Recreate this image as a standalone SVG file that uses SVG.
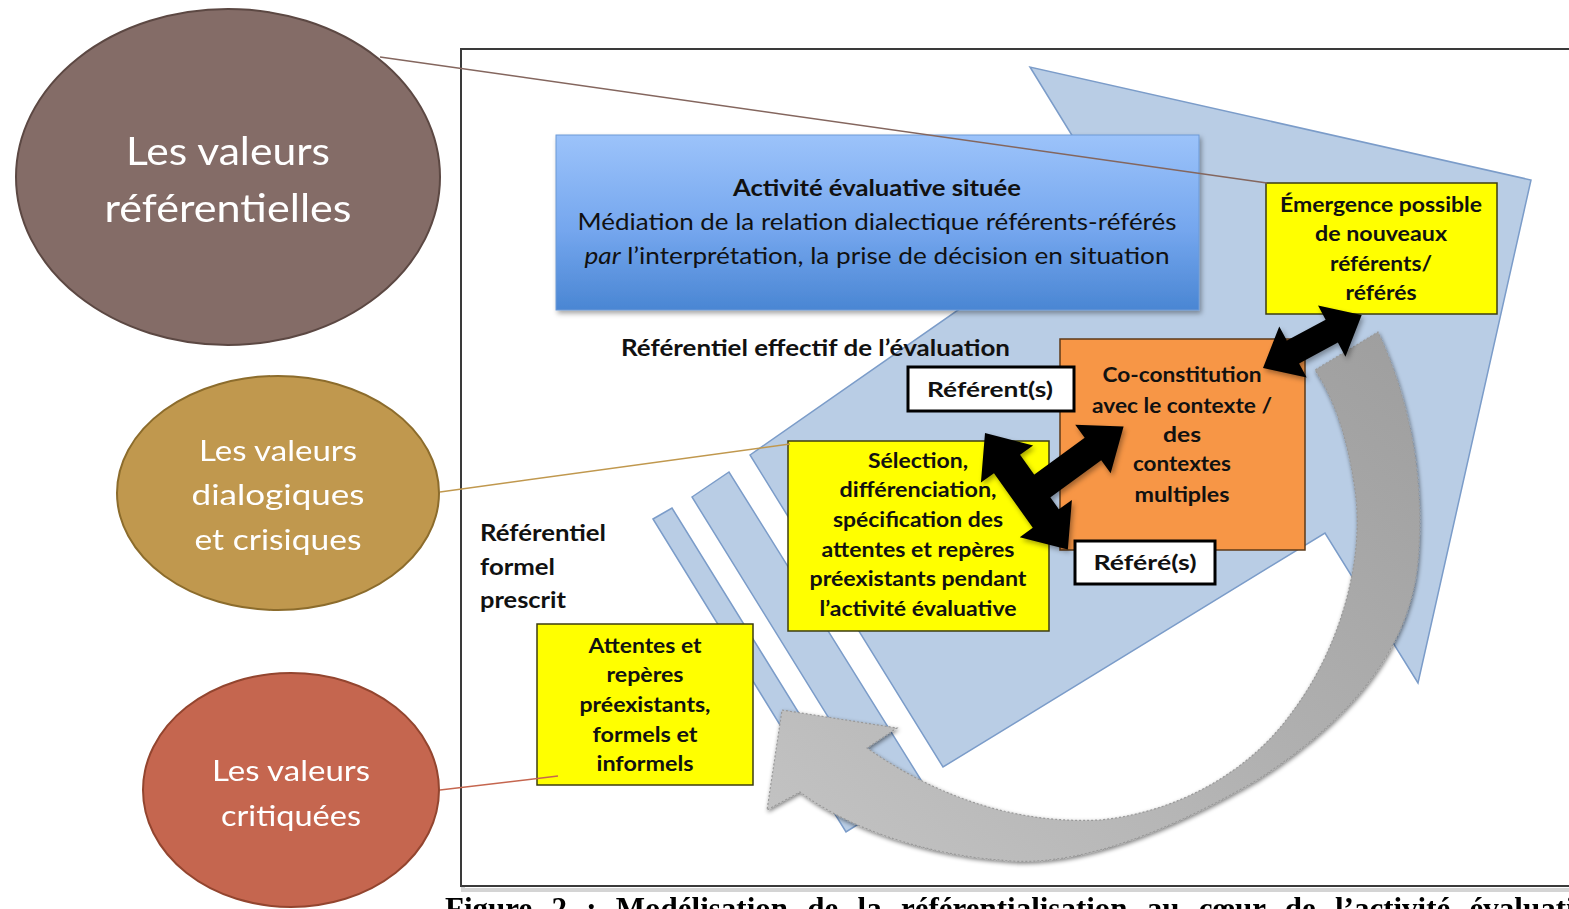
<svg xmlns="http://www.w3.org/2000/svg" width="1569" height="909" viewBox="0 0 1569 909">
<style>
.t{font-family:Lato,"Open Sans","Liberation Sans",sans-serif;fill:#111;}
.b{font-weight:700;}
.bx{font-family:Lato,"Open Sans","Liberation Sans",sans-serif;font-weight:700;font-size:21px;fill:#111;text-anchor:middle;}
.ell{font-family:Lato,"Open Sans","Liberation Sans",sans-serif;fill:#fff;text-anchor:middle;font-weight:400;}
.blue{fill:#b9cde5;stroke:#7b9cc9;stroke-width:1.5;}
.yel{fill:#ffff00;stroke:#3d3d10;stroke-width:1.5;}
.wht{fill:#fff;stroke:#000;stroke-width:3;}
.blk{fill:#000;}
</style>
<defs>
<linearGradient id="gBlue" x1="0" y1="0" x2="0" y2="1">
<stop offset="0" stop-color="#9cc3fa"/>
<stop offset="0.55" stop-color="#74a6ee"/>
<stop offset="1" stop-color="#4a86d3"/>
</linearGradient>
<linearGradient id="gGray" x1="1" y1="0" x2="0" y2="1">
<stop offset="0" stop-color="#9e9e9e"/>
<stop offset="0.5" stop-color="#b0b0b0"/>
<stop offset="1" stop-color="#c4c4c4"/>
</linearGradient>
<filter id="sh" x="-10%" y="-10%" width="130%" height="130%">
<feDropShadow dx="2" dy="3" stdDeviation="2.5" flood-color="#000" flood-opacity="0.35"/>
</filter>
<filter id="shs" x="-20%" y="-20%" width="140%" height="140%">
<feGaussianBlur in="SourceAlpha" stdDeviation="2"/>
<feOffset dx="1" dy="2"/>
<feComponentTransfer><feFuncA type="linear" slope="0.5"/></feComponentTransfer>
<feMerge><feMergeNode/><feMergeNode in="SourceGraphic"/></feMerge>
</filter>
</defs>
<rect width="1569" height="909" fill="#fff"/>

<!-- frame -->
<g id="frame">
<rect x="463" y="51" width="1120" height="839" fill="none" stroke="#d4d4d4" stroke-width="4"/>
<rect x="461" y="49" width="1120" height="837" fill="#fff" stroke="#3a3a3a" stroke-width="2"/>
</g>

<!-- big blue arrow and stripes -->
<g id="bigArrow">
<polygon class="blue" points="750,455 1113,202 1030,67 1531,180 1418,683 1325,533 943,767"/>
<polygon class="blue" points="692,497 729,472 921,780 882,804"/>
<polygon class="blue" points="653,519 672,508 865,820 846,832"/>
</g>

<!-- gray curved arrow -->
<g id="grayArrow">
<path d="M782,710 L897,728 L867,748 C920,785 1000,825 1100,820 C1180,812 1250,770 1290,715 C1340,650 1365,560 1355,490 C1348,440 1335,400 1315,370 L1378,332 C1410,400 1425,480 1418,560 C1410,650 1350,720 1257,780 C1180,825 1080,870 1000,860 C930,855 850,830 800,792 L767,810 Z" fill="url(#gGray)" stroke="#999" stroke-width="1.2" stroke-dasharray="2 2" filter="url(#shs)"/>
</g>

<!-- blue box -->
<g id="activite">
<rect x="556" y="135" width="643" height="175" fill="url(#gBlue)" stroke="#6d9ad6" stroke-width="1" filter="url(#sh)"/>
<text class="t b" x="877" y="196" font-size="23" text-anchor="middle" textLength="288" lengthAdjust="spacingAndGlyphs">Activité évaluative située</text>
<text class="t" x="877" y="230" font-size="24" text-anchor="middle" textLength="599" lengthAdjust="spacingAndGlyphs">Médiation de la relation dialectique référents-référés</text>
<text class="t" x="877" y="264" font-size="24" text-anchor="middle" textLength="585" lengthAdjust="spacingAndGlyphs"><tspan font-style="italic">par</tspan> l’interprétation, la prise de décision en situation</text>
</g>

<!-- labels -->
<g id="labelEffectif">
<text class="t b" x="621" y="356" font-size="22" textLength="389" lengthAdjust="spacingAndGlyphs">Référentiel effectif de l’évaluation</text>
</g>
<g id="labelFormel">
<text class="t b" x="480" y="541" font-size="22" textLength="126" lengthAdjust="spacingAndGlyphs">Référentiel</text>
<text class="t b" x="480" y="575" font-size="22" textLength="75" lengthAdjust="spacingAndGlyphs">formel</text>
<text class="t b" x="480" y="608" font-size="22" textLength="86" lengthAdjust="spacingAndGlyphs">prescrit</text>
</g>

<!-- orange box -->
<g id="coconstitution">
<rect x="1060" y="339" width="245" height="211" fill="#f79646" stroke="#5e3a18" stroke-width="1.5"/>
<text class="bx" x="1182" y="382" textLength="159" lengthAdjust="spacingAndGlyphs">Co-constitution</text>
<text class="bx" x="1182" y="413" textLength="180" lengthAdjust="spacingAndGlyphs">avec le contexte /</text>
<text class="bx" x="1182" y="442" textLength="38" lengthAdjust="spacingAndGlyphs">des</text>
<text class="bx" x="1182" y="471" textLength="98" lengthAdjust="spacingAndGlyphs">contextes</text>
<text class="bx" x="1182" y="502" textLength="95" lengthAdjust="spacingAndGlyphs">multiples</text>
</g>

<!-- emergence box -->
<g id="emergence">
<rect class="yel" x="1266" y="183" width="231" height="131"/>
<text class="bx" x="1381" y="212" textLength="202" lengthAdjust="spacingAndGlyphs">Émergence possible</text>
<text class="bx" x="1381" y="241" textLength="132" lengthAdjust="spacingAndGlyphs">de nouveaux</text>
<text class="bx" x="1381" y="271" textLength="102" lengthAdjust="spacingAndGlyphs">référents/</text>
<text class="bx" x="1381" y="300" textLength="71" lengthAdjust="spacingAndGlyphs">référés</text>
</g>

<!-- selection box -->
<g id="selection">
<rect class="yel" x="788" y="441" width="261" height="190"/>
<text class="bx" x="918" y="468" textLength="100" lengthAdjust="spacingAndGlyphs">Sélection,</text>
<text class="bx" x="918" y="497" textLength="157" lengthAdjust="spacingAndGlyphs">différenciation,</text>
<text class="bx" x="918" y="527" textLength="170" lengthAdjust="spacingAndGlyphs">spécification des</text>
<text class="bx" x="918" y="557" textLength="193" lengthAdjust="spacingAndGlyphs">attentes et repères</text>
<text class="bx" x="918" y="586" textLength="217" lengthAdjust="spacingAndGlyphs">préexistants pendant</text>
<text class="bx" x="918" y="616" textLength="197" lengthAdjust="spacingAndGlyphs">l’activité évaluative</text>
</g>

<!-- attentes box -->
<g id="attentes">
<rect class="yel" x="537" y="624" width="216" height="161"/>
<text class="bx" x="645" y="653" textLength="113" lengthAdjust="spacingAndGlyphs">Attentes et</text>
<text class="bx" x="645" y="682" textLength="77" lengthAdjust="spacingAndGlyphs">repères</text>
<text class="bx" x="645" y="712" textLength="131" lengthAdjust="spacingAndGlyphs">préexistants,</text>
<text class="bx" x="645" y="742" textLength="105" lengthAdjust="spacingAndGlyphs">formels et</text>
<text class="bx" x="645" y="771" textLength="97" lengthAdjust="spacingAndGlyphs">informels</text>
</g>

<!-- referent / refere boxes -->
<g id="referent">
<rect class="wht" x="908" y="367" width="166" height="44"/>
<text class="bx" x="990" y="397" font-size="23" textLength="126" lengthAdjust="spacingAndGlyphs">Référent(s)</text>
</g>
<g id="refere">
<rect class="wht" x="1075" y="541" width="140" height="43"/>
<text class="bx" x="1145" y="570" font-size="23" textLength="103" lengthAdjust="spacingAndGlyphs">Référé(s)</text>
</g>

<!-- black arrows -->
<g id="blackArrows" filter="url(#sh)">
<polygon class="blk" transform="translate(1263,368) rotate(-28.2)" points="0,0 34,-29 34,-13 78,-13 78,-29 112,0 78,29 78,13 34,13 34,29"/>
<polygon class="blk" transform="translate(1030,495) rotate(-36.2)" points="0,-14 78,-14 78,-30 116,0 78,30 78,14 0,14"/>
<polygon class="blk" transform="translate(985,433) rotate(54.6)" points="0,0 38,-32 38,-16 105,-16 105,-32 143,0 105,32 105,16 38,16 38,32"/>
</g>

<!-- ellipses -->
<g id="valeursReferentielles">
<ellipse cx="228" cy="177" rx="212" ry="168" fill="#846c67" stroke="#5c4843" stroke-width="2"/>
<text class="ell" x="228" y="165" font-size="38" textLength="204" lengthAdjust="spacingAndGlyphs">Les valeurs</text>
<text class="ell" x="228" y="222" font-size="38" textLength="247" lengthAdjust="spacingAndGlyphs">référentielles</text>
</g>
<g id="valeursDialogiques">
<ellipse cx="278" cy="493" rx="161" ry="117" fill="#c0984e" stroke="#8c6c2c" stroke-width="2"/>
<text class="ell" x="278" y="461" font-size="28" textLength="158" lengthAdjust="spacingAndGlyphs">Les valeurs</text>
<text class="ell" x="278" y="505" font-size="28" textLength="173" lengthAdjust="spacingAndGlyphs">dialogiques</text>
<text class="ell" x="278" y="550" font-size="28" textLength="167" lengthAdjust="spacingAndGlyphs">et crisiques</text>
</g>
<g id="valeursCritiquees">
<ellipse cx="291" cy="790" rx="148" ry="117" fill="#c5664f" stroke="#93452f" stroke-width="2"/>
<text class="ell" x="291" y="781" font-size="28" textLength="158" lengthAdjust="spacingAndGlyphs">Les valeurs</text>
<text class="ell" x="291" y="826" font-size="28" textLength="140" lengthAdjust="spacingAndGlyphs">critiquées</text>
</g>

<!-- connectors -->
<g id="connectors" fill="none" stroke-width="1.5">
<line x1="380" y1="57" x2="1267" y2="183" stroke="#84665e"/>
<line x1="440" y1="492" x2="790" y2="444" stroke="#c0984e"/>
<line x1="440" y1="790" x2="558" y2="776" stroke="#c5664f"/>
</g>

<!-- caption (clipped at the bottom edge, as in the reference) -->
<text x="445" y="919" font-family="'Liberation Serif','Times New Roman',serif" font-weight="700" font-size="31" word-spacing="11.5" fill="#000">Figure 2 : Modélisation de la référentialisation au cœur de l’activité évaluative</text>
</svg>
